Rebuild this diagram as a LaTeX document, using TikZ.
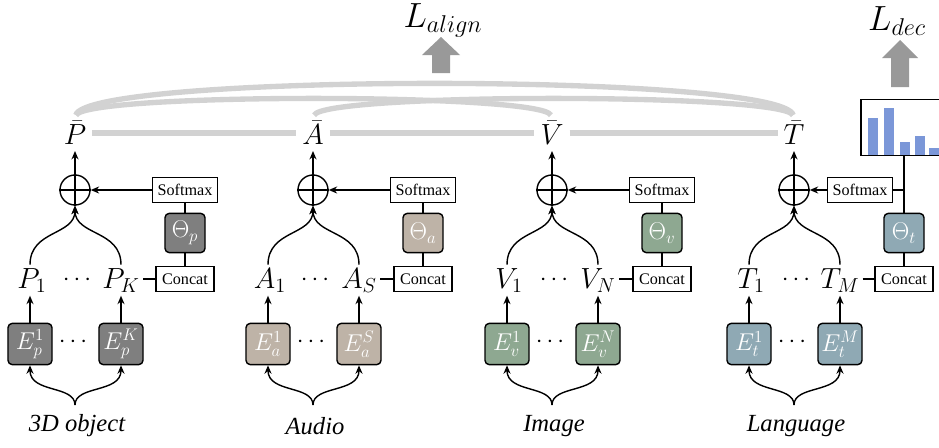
\documentclass[tikz,border=0pt]{standalone}
\usepackage{fontspec}
\setmainfont{Liberation Serif}
\usepackage{amsmath}
\usetikzlibrary{arrows.meta}
\definecolor{pcol}{HTML}{7F7F7F}
\definecolor{acol}{HTML}{BEB3A7}
\definecolor{vcol}{HTML}{8EA891}
\definecolor{tcol}{HTML}{8FA9B4}
\definecolor{barblue}{HTML}{7B97D8}
\tikzset{every picture/.style={line width=0.75pt}}
\tikzset{
  enc/.style={draw, line width=1pt, rounded corners=3pt, minimum width=1.1cm,
    minimum height=1.03cm, inner sep=0pt, text=white, font=\fontsize{17}{20}\selectfont},
  thetabox/.style={enc, minimum width=1cm, minimum height=0.98cm, font=\fontsize{18}{21}\selectfont},
  opbox/.style={draw, line width=0.8pt, fill=white, inner sep=0pt, minimum height=0.64cm,
    font=\fontsize{11.5}{13}\selectfont},
  oplus/.style={circle, draw, line width=1pt, minimum size=0.75cm, inner sep=0pt},
  mlabel/.style={font=\fontsize{22}{26}\selectfont, inner sep=2pt},
  modlabel/.style={font=\fontsize{17.5}{21}\selectfont\itshape},
  conn/.style={line width=1pt},
  arr/.style={conn, -{Stealth[length=6pt, width=5pt]}},
  gline/.style={gray!35, line width=3.8pt},
  blockarrow/.style={fill=gray!80},
}

\begin{document}
\begin{tikzpicture}[x=0.025cm, y=-0.025cm]
\path[use as bounding box] (0,0) rectangle (939,447);
\clip (0,0) rectangle (939,447);
%
\foreach \key/\xpos/\sym/\last/\col/\soff/\modname in {%
	p/75/P/K/pcol/110/3D object,
	a/313/A/S/acol/110/Audio,
	v/552/V/N/vcol/110/Image,
	t/794/T/M/tcol/66/Language%
    }{
\node[mlabel] (bar\key) at (\xpos,133) {$\bar{\sym}$};
\node[oplus] (op\key) at (\xpos,190) {};
\node[opbox, minimum width=1.62cm] (soft\key) at (\xpos+\soff,190) {Softmax};
\node[thetabox, fill=\col] (th\key) at (\xpos+110,233) {$\Theta_\key$};
\node[opbox, minimum width=1.45cm] (cat\key) at (\xpos+110,279) {Concat};
\node[mlabel, anchor=base] (lab\key1) at (\xpos-43,288) {$\sym_1$};
\node[mlabel, anchor=base, font=\fontsize{17}{20}\selectfont] (labdots\key) at (\xpos+4,285) {$\cdots$};
\node[mlabel, anchor=base] (lab\key2) at (\xpos+46,288) {$\sym_\last$};
\node[enc, fill=\col] (enc\key1) at (\xpos-45,344) {$E_\key^1$};
\node[font=\fontsize{17}{20}\selectfont] (encdots\key) at (\xpos,342) {$\cdots$};
\node[enc, fill=\col] (enc\key2) at (\xpos+46,344) {$E_\key^\last$};
\coordinate (in\key) at (\xpos,405);
\node[modlabel] (name\key) at (\xpos+2,426) {\modname};
%
\draw[conn] (op\key.north) -- (op\key.south) (op\key.west) -- (op\key.east);
\draw[arr, shorten >=2pt] (op\key.north) -- (bar\key.south);
\draw[arr] (soft\key.west) -- (op\key.east);
\draw[conn] (th\key.north) -- (th\key.north |- soft\key.south);
\draw[conn] (cat\key.north) -- (th\key.south);
\draw[conn] (lab\key2.east |- cat\key.west) -- (cat\key.west);
\foreach \i in {1,2} {
\draw[arr] (enc\key\i.north) -- (enc\key\i.north |- lab\key\i.south);
\draw[arr] (enc\key\i.north |- lab\key\i.north) .. controls +(0,-35) and +(0,30) .. (op\key.south);
\draw[arr] (in\key) .. controls +(0,-20) and +(0,28) .. (enc\key\i.south);
}
}
%
\foreach \Source/\Target in {p/a, a/v, v/t}
\draw[gline, shorten <=2pt, shorten >=2pt] (bar\Source) -- (bar\Target);
\draw[gline, shorten <=2pt, shorten >=2pt] (barp.north) .. controls +(12,-45) and +(-12,-45) .. (bart.north);
\draw[gline, shorten <=2pt, shorten >=2pt] (barp.north) .. controls +(10,-25) and +(-10,-25) .. (barv.north);
\draw[gline, shorten <=2pt, shorten >=2pt] (bara.north) .. controls +(10,-25) and +(-10,-25) .. (bart.north);
%
\foreach \bx/\by in {868/118, 884/108, 900/142, 915/136, 929/148}
\fill[barblue] (\bx,155) rectangle (\bx+10,\by);
\node[draw, line width=1pt, minimum width=2.15cm, minimum height=1.4cm] (hist) at (904,127.5) {};
\draw[conn] (tht.north) -- (hist.south);
\draw[conn] (softt.east) -- (softt.east -| hist.south);
%
\node[mlabel, anchor=base, font=\fontsize{23}{27}\selectfont] (lalign) at (443,27) {$L_{align}$};
\node[mlabel, anchor=base, font=\fontsize{23}{27}\selectfont] (ldec) at (897,30) {$L_{dec}$};
\fill[blockarrow] (441,37) -- (460,55) -- (450,55) -- (450,73) -- (432,73) -- (432,55) -- (422,55) -- cycle;
\fill[blockarrow] (900,40) -- (918,58) -- (909,58) -- (909,87) -- (891,87) -- (891,58) -- (882,58) -- cycle;
\end{tikzpicture}
\end{document}
